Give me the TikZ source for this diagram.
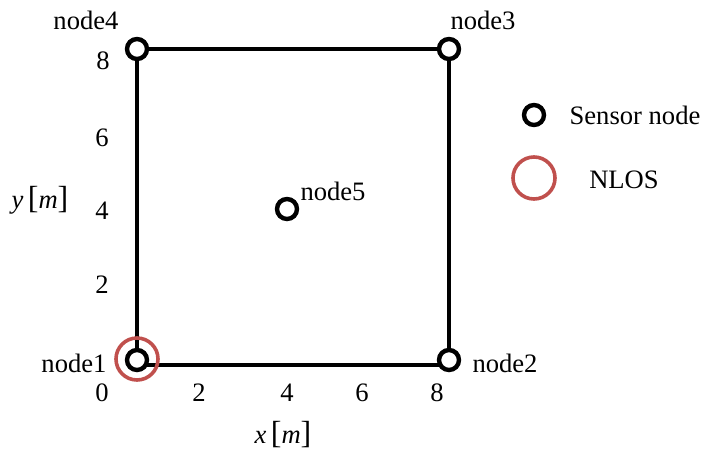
\documentclass[tikz,border=0pt]{standalone}
\usepackage{fontspec}
\setmainfont{Liberation Serif}
\definecolor{nlosred}{RGB}{192,80,77}
\begin{document}
\begin{tikzpicture}[x=0.5pt,y=-0.5pt,
  sensor/.style={circle,draw=black,fill=white,line width=2.2pt,minimum size=10pt,inner sep=0pt},
  nlos/.style={circle,draw=nlosred,line width=1.8pt,minimum size=21pt,inner sep=0pt},
  edge/.style={line width=2.1pt},
  lbl/.style={font=\fontsize{13.3}{15}\selectfont,inner sep=0pt}]
\useasboundingbox (0,0) rectangle (707,456);
% nodes
\coordinate (c1) at (137,360);
\coordinate (c2) at (449,360);
\coordinate (c3) at (449,49);
\coordinate (c4) at (137,49);
\coordinate (c5) at (287,209);
\draw[edge] (c4) -- (c3);
\draw[edge] (c4) -- (c1);
\draw[edge] (c3) -- (c2);
\draw[edge] ([yshift=-2.5pt]c1) -- ([yshift=-2.5pt]c2);
\node[sensor] (n1) at (c1) {};
\node[sensor] (n2) at (c2) {};
\node[sensor] (n3) at (c3) {};
\node[sensor] (n4) at (c4) {};
\node[sensor] (n5) at (c5) {};
\node[nlos] (r1) at (137,359) {};
% node labels
\node[lbl] (l1) at (74,363) {node1};
\node[lbl] (l2) at (505,363) {node2};
\node[lbl] (l3) at (483,20) {node3};
\node[lbl] (l4) at (86,20) {node4};
\node[lbl] (l5) at (333,191) {node5};
% axis ticks
\node[lbl] (y8) at (103,61) {8};
\node[lbl] (y6) at (102,138) {6};
\node[lbl] (y4) at (102,211) {4};
\node[lbl] (y2) at (102,285) {2};
\node[lbl] (x0) at (102,393) {0};
\node[lbl] (x2) at (199,393) {2};
\node[lbl] (x4) at (287,393) {4};
\node[lbl] (x6) at (362,393) {6};
\node[lbl] (x8) at (437,393) {8};
\node[lbl] (xl) at (283,435) {\textit{x}\,{\fontsize{16}{16}\selectfont[}\textit{m}{\fontsize{16}{16}\selectfont]}};
\node[lbl] (yl) at (40,200) {\textit{y}\,{\fontsize{16}{16}\selectfont[}\textit{m}{\fontsize{16}{16}\selectfont]}};
% legend
\node[sensor] (ls) at (534,115) {};
\node[lbl] (lst) at (635,115) {Sensor node};
\node[nlos] (lr) at (534,178) {};
\node[lbl] (lrt) at (624,180) {NLOS};
\end{tikzpicture}
\end{document}
